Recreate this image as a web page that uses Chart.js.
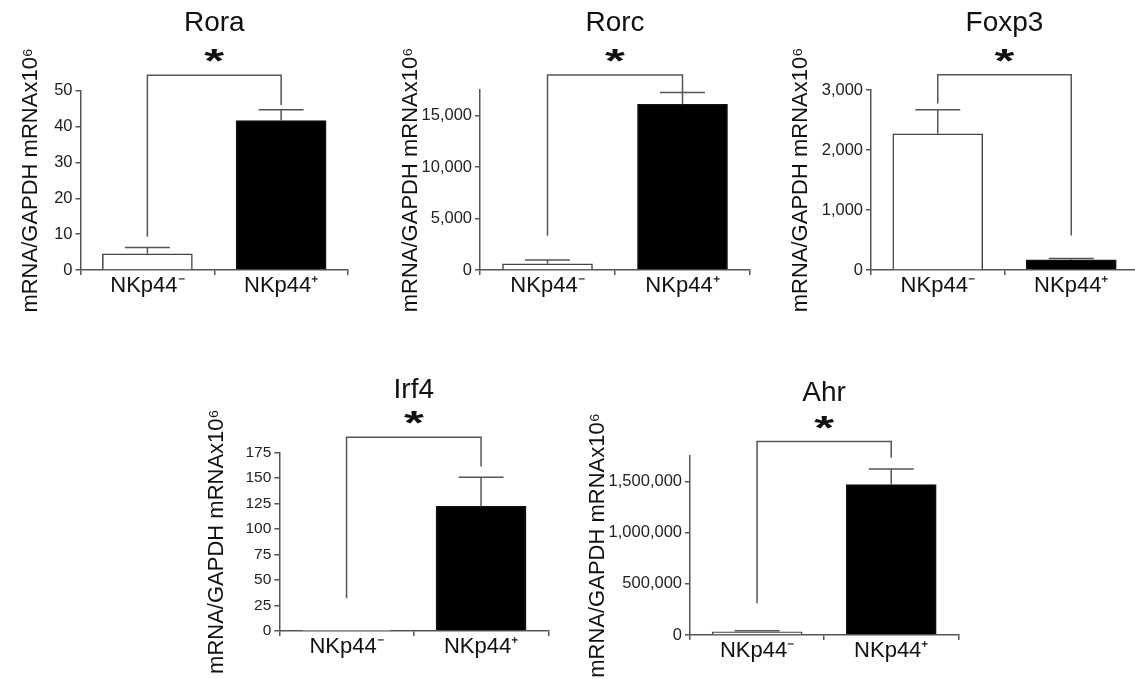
<!DOCTYPE html>
<html>
<head>
<meta charset="utf-8">
<script src="https://cdn.jsdelivr.net/npm/chart.js@4.4.1/dist/chart.umd.min.js"></script>
<style>
  html, body { margin: 0; padding: 0; background: #fff; overflow: hidden; }
  #wrap { position: relative; width: 1135px; height: 679px; }
  #wrap canvas { position: absolute; }
</style>
</head>
<body>
<div id="wrap"></div>
<script>
const groups = ["NKp44\u207B", "NKp44\u207A"];
const yLabel = "mRNA/GAPDH mRNAx10\u2076";

// mean, SEM, y ticks, axis max, bracket [left leg end, bracket level, right leg end]
const roraMean = [4.5, 41.7];
const roraSem = [1.8, 3.0];
const roraTicks = [0, 10, 20, 30, 40, 50];
const roraMax = 50;
const roraBracket = [9.3, 54.3, 46];

const rorcMean = [600, 16100];
const rorcSem = [370, 1150];
const rorcTicks = [0, 5000, 10000, 15000];
const rorcMax = 17500;
const rorcBracket = [3340, 18970, 17250];

const foxp3Mean = [2270, 170];
const foxp3Sem = [400, 20];
const foxp3Ticks = [0, 1000, 2000, 3000];
const foxp3Max = 3000;
const foxp3Bracket = [2776, 3254, 575];

const irf4Mean = [0.5, 122];
const irf4Sem = [0, 28.5];
const irf4Ticks = [0, 25, 50, 75, 100, 125, 150, 175];
const irf4Max = 175;
const irf4Bracket = [32, 189.7, 161];

const ahrMean = [32000, 1470000];
const ahrSem = [10000, 152000];
const ahrTicks = [0, 500000, 1000000, 1500000];
const ahrMax = 1750000;
const ahrBracket = [310000, 1891000, 1732000];

const AXIS = "#555";
const FONT = "'Liberation Sans', Arial, sans-serif";

const panels = [
  { title: "Rora", mean: roraMean, sem: roraSem, ticks: roraTicks, max: roraMax, bracket: roraBracket,
    box: { left: 80.5, right: 348, top: 90.7, bottom: 269.3, labelX: 31, titleGap: 67, tickSize: 16.5 } },
  { title: "Rorc", mean: rorcMean, sem: rorcSem, ticks: rorcTicks, max: rorcMax, bracket: rorcBracket,
    box: { left: 480, right: 750, top: 90, bottom: 269.3, labelX: 411, titleGap: 67, tickSize: 16.5 } },
  { title: "Foxp3", mean: foxp3Mean, sem: foxp3Sem, ticks: foxp3Ticks, max: foxp3Max, bracket: foxp3Bracket,
    box: { left: 871, right: 1138, top: 90, bottom: 269.3, labelX: 801, titleGap: 67, tickSize: 16.5 } },
  { title: "Irf4", mean: irf4Mean, sem: irf4Sem, ticks: irf4Ticks, max: irf4Max, bracket: irf4Bracket,
    box: { left: 279.3, right: 548.3, top: 452.3, bottom: 631, labelX: 217, titleGap: 62, tickSize: 15.5 } },
  { title: "Ahr", mean: ahrMean, sem: ahrSem, ticks: ahrTicks, max: ahrMax, bracket: ahrBracket,
    box: { left: 690, right: 958.3, top: 456, bottom: 634.3, labelX: 598, titleGap: 63, tickSize: 16.5 } },
];

// error bars, significance bracket and star
const marksPlugin = {
  id: "marks",
  afterDatasetsDraw(chart, args, opts) {
    const { ctx } = chart;
    const y = chart.scales.y;
    const bars = chart.getDatasetMeta(0).data;
    ctx.save();
    ctx.strokeStyle = AXIS;
    ctx.lineWidth = 1.5;
    bars.forEach((bar, i) => {
      if (!opts.sem[i]) return;
      const top = y.getPixelForValue(opts.mean[i] + opts.sem[i]);
      const half = bar.width / 4;
      ctx.beginPath();
      ctx.moveTo(bar.x, bar.y);
      ctx.lineTo(bar.x, top);
      ctx.moveTo(bar.x - half, top);
      ctx.lineTo(bar.x + half, top);
      ctx.stroke();
    });

    const xl = bars[0].x;
    const xr = bars[1].x;
    const yb = y.getPixelForValue(opts.bracket[1]);
    ctx.beginPath();
    ctx.moveTo(xl, y.getPixelForValue(opts.bracket[0]));
    ctx.lineTo(xl, yb);
    ctx.lineTo(xr, yb);
    ctx.lineTo(xr, y.getPixelForValue(opts.bracket[2]));
    ctx.stroke();

    ctx.fillStyle = "#111";
    ctx.font = "bold 34px " + FONT;
    ctx.textAlign = "center";
    ctx.textBaseline = "alphabetic";
    ctx.translate((xl + xr) / 2, yb - 3);
    ctx.scale(1.5, 1);
    ctx.fillText("*", 0, 0);
    ctx.restore();
  },
};

const wrap = document.getElementById("wrap");

panels.forEach((p) => {
  const b = p.box;
  const canvasLeft = Math.round(b.labelX - 13.2);
  const canvasTop = Math.floor(b.top - 90);
  const headH = b.top - canvasTop;
  const width = Math.ceil(b.right + 3 - canvasLeft);
  const height = Math.ceil(b.bottom + 48 - canvasTop);

  const canvas = document.createElement("canvas");
  canvas.width = width;
  canvas.height = height;
  canvas.style.left = canvasLeft + "px";
  canvas.style.top = canvasTop + "px";
  wrap.appendChild(canvas);

  const titleSize = 28;
  const titleLine = titleSize * 1.2;

  new Chart(canvas, {
    type: "bar",
    data: {
      labels: groups,
      datasets: [
        {
          data: p.mean,
          backgroundColor: ["#ffffff", "#000000"],
          borderColor: ["#444444", "#111111"],
          borderWidth: 1.5,
          borderSkipped: "bottom",
          barThickness: 90,
        },
      ],
    },
    options: {
      responsive: false,
      animation: false,
      events: [],
      layout: { padding: { left: 0, right: width - (b.right - canvasLeft), top: 0, bottom: 0 } },
      plugins: {
        legend: { display: false },
        tooltip: { enabled: false },
        title: {
          display: true,
          text: p.title,
          fullSize: false,
          color: "#111",
          font: { family: FONT, size: titleSize, weight: "normal", lineHeight: 1.2 },
          padding: {
            top: headH - b.titleGap - titleLine / 2,
            bottom: b.titleGap - titleLine / 2,
          },
        },
        marks: { mean: p.mean, sem: p.sem, bracket: p.bracket },
      },
      scales: {
        x: {
          offset: true,
          grid: { display: true, drawOnChartArea: false, drawTicks: true, tickLength: 5, color: AXIS, lineWidth: 1.5 },
          border: { display: true, color: AXIS, width: 1.5 },
          ticks: { color: "#111", padding: 0, font: { family: FONT, size: 22, lineHeight: 1 } },
          afterFit(scale) { scale.height = 48; },
        },
        y: {
          min: 0,
          max: p.max,
          afterBuildTicks(scale) { scale.ticks = p.ticks.map((v) => ({ value: v })); },
          grid: { display: true, drawOnChartArea: false, drawTicks: true, tickLength: 5, color: AXIS, lineWidth: 1.5 },
          border: { display: true, color: AXIS, width: 1.5 },
          ticks: {
            color: "#222",
            padding: 3,
            font: { family: FONT, size: b.tickSize },
            callback: (v) => Number(v).toLocaleString("en-US"),
          },
          title: {
            display: true,
            text: yLabel,
            color: "#111",
            padding: 0,
            font: { family: FONT, size: 22, lineHeight: 1.2 },
          },
          afterFit(scale) { scale.width = b.left - canvasLeft; },
        },
      },
    },
    plugins: [marksPlugin],
  });
});
</script>
</body>
</html>
